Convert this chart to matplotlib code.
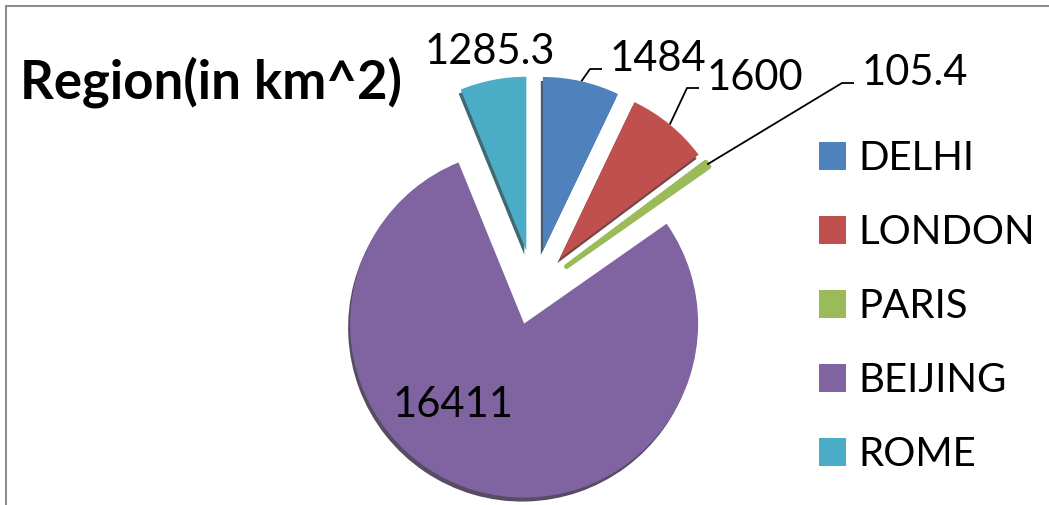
import matplotlib
matplotlib.use("Agg")
import matplotlib.pyplot as plt
from matplotlib.patches import Wedge
import matplotlib.colors as mcolors
import numpy as np

# Data
cities = ["DELHI", "LONDON", "PARIS", "BEIJING", "ROME"]
area_km2 = [1484, 1600, 105.4, 16411, 1285.3]
value_labels = ["1484", "1600", "105.4", "16411", "1285.3"]
colors = ["#4F81BD", "#C0504D", "#9BBB59", "#8064A2", "#4BACC6"]
title = "Region(in km^2)"

W, H = 1049, 505
fig = plt.figure(figsize=(W / 100, H / 100), dpi=100)
ax = fig.add_axes([0, 0, 1, 1])


def py(y):
    """Convert a row measured from the top into a data y value."""
    return H - y


center = (534, py(290))
radius = 174
explode = [40, 40, 40, 35, 40]

wedges, _ = ax.pie(area_km2, colors=colors, startangle=90, counterclock=False,
                   radius=radius, center=center, explode=explode,
                   wedgeprops=dict(linewidth=0), frame=False)

# the thin PARIS slice gets an outline in its own colour so it reads as a band
wedges[2].set_edgecolor(colors[2])
wedges[2].set_linewidth(3.5)
wedges[2].set_joinstyle("round")

# darker copies underneath give the slices a little depth
for w, c in zip(wedges, colors):
    dark = tuple(np.array(mcolors.to_rgb(c)) * 0.45)
    cx, cy = w.center
    sh = Wedge((cx - 2, cy - 4), w.r, w.theta1, w.theta2, facecolor=dark,
               edgecolor="none", zorder=w.get_zorder() - 0.5, alpha=0.85)
    ax.add_patch(sh)

label_font = dict(family="Lato", size=30, color="black")

# value labels: (left x, centre row) for the labels with leader lines
leader_pos = {0: (610, 59), 1: (707, 78), 2: (862, 73)}
for i, (tx, ty) in leader_pos.items():
    w = wedges[i]
    mid = np.deg2rad((w.theta1 + w.theta2) / 2)
    cx, cy = w.center
    ax_pt = (cx + w.r * np.cos(mid), cy + w.r * np.sin(mid))
    elbow = (tx - 20, py(ty + 10))
    end = (tx - 8, py(ty + 10))
    ax.plot([ax_pt[0], elbow[0], end[0]], [ax_pt[1], elbow[1], end[1]],
            color="black", lw=1.3, solid_capstyle="butt", zorder=5)
    ax.text(tx, py(ty), value_labels[i], ha="left", va="center", **label_font, zorder=6)

ax.text(490, py(52), value_labels[4], ha="center", va="center", **label_font, zorder=6)
ax.text(453, py(405), value_labels[3], ha="center", va="center", **label_font, zorder=6)

ax.text(20, py(98), title, ha="left", va="baseline", family="Lato",
        fontweight="bold", fontsize=38, color="black")

leg = ax.legend(wedges, cities, loc="upper left", bbox_to_anchor=(819, py(140)),
                bbox_transform=ax.transData, frameon=False,
                prop=dict(family="Lato", size=29), handlelength=0.67,
                handleheight=0.67, handletextpad=0.32, labelspacing=0.92,
                borderpad=0, borderaxespad=0)
for h in leg.legend_handles:
    h.set_linewidth(0)

# outer chart frame (top and left edges visible)
ax.plot([6, 6, W + 5], [-5, py(6), py(6)], color="#8c8c8c", lw=1.5,
        solid_joinstyle="miter", clip_on=False)

ax.set_xlim(0, W)
ax.set_ylim(0, H)
ax.set_aspect("equal")
ax.axis("off")

fig.savefig("out.png", dpi=100)
